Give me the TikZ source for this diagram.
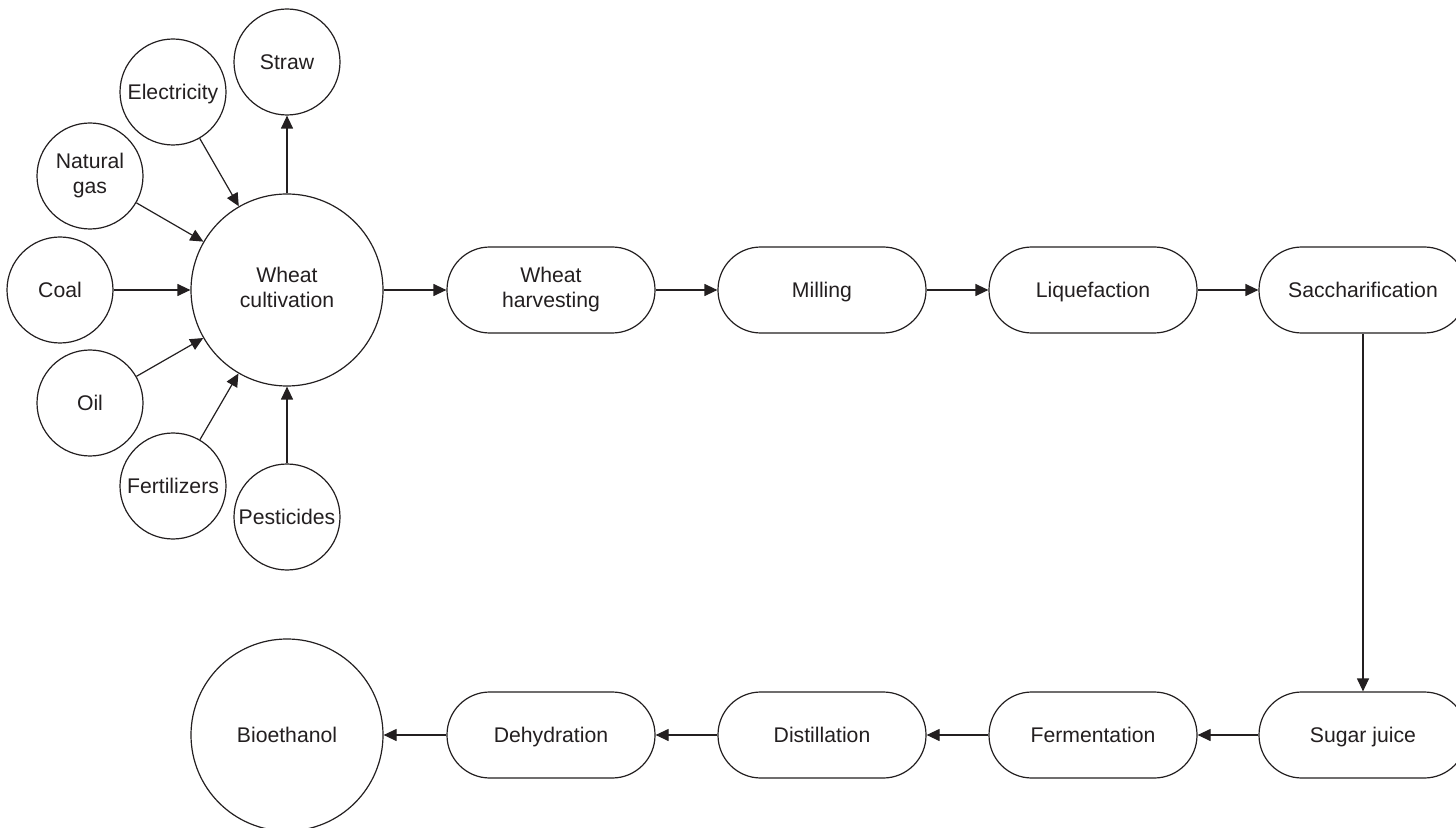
\documentclass[tikz,border=0pt]{standalone}
\usepackage{fontspec}
\setmainfont{Liberation Sans}
\usetikzlibrary{arrows.meta}
\definecolor{ink}{HTML}{231F20}
\newcommand\mystrut{\rule[-2.45pt]{0pt}{12.5pt}}
\begin{document}
\begin{tikzpicture}[x=0.5pt,y=-0.5pt,
  every node/.style={font=\fontsize{10.6}{12.5}\selectfont, text=ink, align=center, execute at begin node=\mystrut, execute at end node=\mystrut},
  smallc/.style={circle, draw=ink, line width=0.6pt, minimum size=53pt, inner sep=0pt},
  bigc/.style={circle, draw=ink, line width=0.6pt, minimum size=96pt, inner sep=0pt},
  proc/.style={draw=ink, line width=0.6pt, rounded corners=21.4pt, minimum width=104pt, minimum height=43pt, inner sep=0pt},
  conn/.style={draw=ink, line width=0.6pt, -{Triangle[length=6.5pt,width=6pt]}}]
\useasboundingbox (0,0) rectangle (1456,828);
\clip (0,0) rectangle (1456,828);
\fill[white] (0,0) rectangle (1456,828);
% inputs
\node[smallc] (straw) at (287,62) {Straw};
\node[smallc] (elec) at (173,92) {Electricity};
\node[smallc] (gas) at (90,176) {Natural\\gas};
\node[smallc] (coal) at (60,290) {Coal};
\node[smallc] (oil) at (90,403) {Oil};
\node[smallc] (fert) at (173,486) {Fertilizers};
\node[smallc] (pest) at (287,517) {Pesticides};
\node[bigc] (wheat) at (287,290) {Wheat\\cultivation};
% top row
\node[proc] (harv) at (551,290) {Wheat\\harvesting};
\node[proc] (mill) at (822,290) {Milling};
\node[proc] (liq) at (1093,290) {Liquefaction};
\node[proc] (sacch) at (1363,290) {Saccharification};
% bottom row
\node[proc] (sugar) at (1363,735) {Sugar juice};
\node[proc] (ferm) at (1093,735) {Fermentation};
\node[proc] (dist) at (822,735) {Distillation};
\node[proc] (dehyd) at (551,735) {Dehydration};
\node[bigc] (bio) at (287,735) {Bioethanol};
% connectors
\draw[conn] (wheat) -- (straw);
\draw[conn] (elec) -- (wheat);
\draw[conn] (gas) -- (wheat);
\draw[conn] (coal) -- (wheat);
\draw[conn] (oil) -- (wheat);
\draw[conn] (fert) -- (wheat);
\draw[conn] (pest) -- (wheat);
\draw[conn] (wheat) -- (harv);
\draw[conn] (harv) -- (mill);
\draw[conn] (mill) -- (liq);
\draw[conn] (liq) -- (sacch);
\draw[conn] (sacch) -- (sugar);
\draw[conn] (sugar) -- (ferm);
\draw[conn] (ferm) -- (dist);
\draw[conn] (dist) -- (dehyd);
\draw[conn] (dehyd) -- (bio);
\end{tikzpicture}
\end{document}
